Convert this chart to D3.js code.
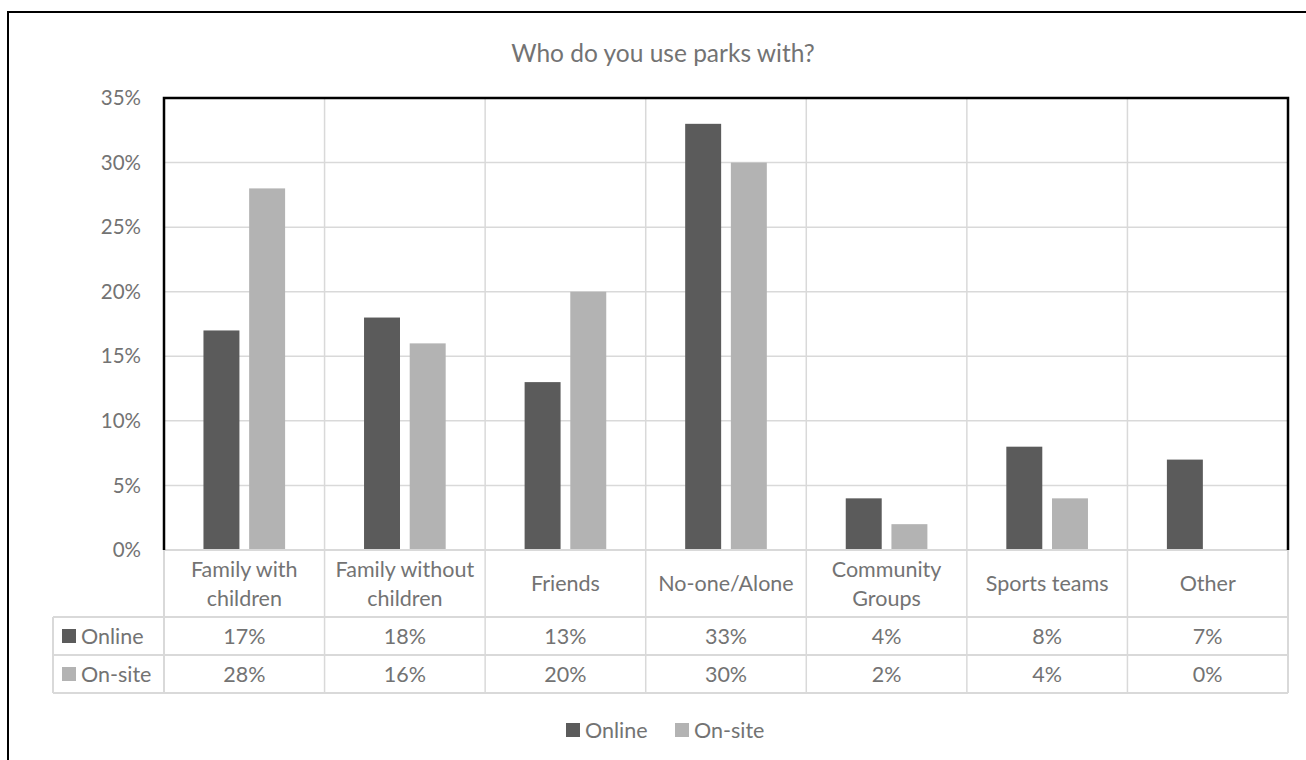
<!DOCTYPE html>
<html>
<head>
<meta charset="utf-8">
<script src="https://cdn.jsdelivr.net/npm/d3@7"></script>
<style>
  body { margin: 0; background: #fff; }
  svg text { font-family: Lato, "Open Sans", sans-serif; fill: #737373; }
</style>
</head>
<body>
<svg id="canvas" width="1306" height="760"></svg>
<script>
let title = "Who do you use parks with?";
let categories = [
  "Family with\nchildren",
  "Family without\nchildren",
  "Friends",
  "No-one/Alone",
  "Community\nGroups",
  "Sports teams",
  "Other"
];
let seriesNames = ["Online", "On-site"];
let onlineValues = [17, 18, 13, 33, 4, 8, 7];
let onsiteValues = [28, 16, 20, 30, 2, 4, 0];
let yTicks = [0, 5, 10, 15, 20, 25, 30, 35];
let colors = ["#5b5b5b", "#b3b3b3"];

let series = [onlineValues, onsiteValues];

let canvas = d3.select("#canvas");

// layout
let plotLeft = 164, plotRight = 1288, plotTop = 98, plotBottom = 550;
let tableLeft = 53;
let headerBottom = 617;
let rowEdges = [617, 655, 693];
let gridColor = "#d9d9d9";
let labelSize = "21.5px";

let x = d3.scaleBand()
  .domain(categories)
  .range([plotLeft, plotRight]);

let y = d3.scaleLinear()
  .domain([0, 35])
  .range([plotBottom, plotTop]);

let barW = x.bandwidth() * 0.224;
let barGap = barW * 0.27;
let groupW = barW * 2 + barGap;
let barX = (cat, s) => x(cat) + (x.bandwidth() - groupW) / 2 + s * (barW + barGap);

// outer chart border
canvas.append("rect")
  .attr("x", 8).attr("y", 12)
  .attr("width", 1310).attr("height", 770)
  .attr("fill", "none")
  .attr("stroke", "#000")
  .attr("stroke-width", 2);

// title
canvas.append("text")
  .attr("x", 663).attr("y", 62)
  .attr("text-anchor", "middle")
  .style("font-size", "24.5px")
  .text(title);

// horizontal gridlines + y labels
canvas.selectAll(".hgrid")
  .data(yTicks.filter((t) => t > 0 && t < 35))
  .enter()
  .append("line")
  .attr("class", "hgrid")
  .attr("x1", plotLeft).attr("x2", plotRight)
  .attr("y1", (d) => y(d)).attr("y2", (d) => y(d))
  .attr("stroke", gridColor)
  .attr("stroke-width", 1.5);

canvas.selectAll(".ylab")
  .data(yTicks)
  .enter()
  .append("text")
  .attr("class", "ylab")
  .attr("x", 141)
  .attr("y", (d) => y(d))
  .attr("dy", "0.35em")
  .attr("text-anchor", "end")
  .style("font-size", "20.5px")
  .text((d) => d + "%");

// vertical lines at category boundaries (plot + table)
let bounds = categories.slice(1).map((c) => x(c));
canvas.selectAll(".vgrid")
  .data(bounds)
  .enter()
  .append("line")
  .attr("class", "vgrid")
  .attr("x1", (d) => d).attr("x2", (d) => d)
  .attr("y1", plotTop).attr("y2", rowEdges[2])
  .attr("stroke", gridColor)
  .attr("stroke-width", 1.5);

// bars
series.forEach((vals, s) => {
  canvas.selectAll(".bar" + s)
    .data(vals)
    .enter()
    .append("rect")
    .attr("class", "bar" + s)
    .attr("x", (d, i) => barX(categories[i], s))
    .attr("y", (d) => y(d))
    .attr("width", barW)
    .attr("height", (d) => y(0) - y(d))
    .attr("fill", colors[s]);
});

// table lines
let tbl = canvas.append("g");
tbl.append("line")
  .attr("x1", plotLeft).attr("x2", plotRight)
  .attr("y1", plotBottom).attr("y2", plotBottom);
rowEdges.forEach((r) => {
  tbl.append("line")
    .attr("x1", tableLeft).attr("x2", plotRight)
    .attr("y1", r).attr("y2", r);
});
tbl.append("line")
  .attr("x1", tableLeft).attr("x2", tableLeft)
  .attr("y1", rowEdges[0]).attr("y2", rowEdges[2]);
tbl.append("line")
  .attr("x1", plotLeft).attr("x2", plotLeft)
  .attr("y1", plotBottom).attr("y2", rowEdges[2]);
tbl.append("line")
  .attr("x1", plotRight).attr("x2", plotRight)
  .attr("y1", plotBottom).attr("y2", rowEdges[2]);
tbl.selectAll("line")
  .attr("stroke", gridColor)
  .attr("stroke-width", 2);

// plot area border (left, top, right)
canvas.append("path")
  .attr("d", "M" + plotLeft + "," + plotBottom + "V" + plotTop + "H" + plotRight + "V" + plotBottom)
  .attr("fill", "none")
  .attr("stroke", "#000")
  .attr("stroke-width", 2.5);

// category labels
let catText = canvas.selectAll(".cat")
  .data(categories)
  .enter()
  .append("text")
  .attr("class", "cat")
  .attr("text-anchor", "middle")
  .style("font-size", labelSize);

catText.each(function (d) {
  let lines = d.split("\n");
  let cx = x(d) + x.bandwidth() / 2;
  let mid = (plotBottom + headerBottom) / 2;
  let lh = 29;
  d3.select(this).selectAll("tspan")
    .data(lines)
    .enter()
    .append("tspan")
    .attr("x", cx)
    .attr("y", (l, j) => mid + (j - (lines.length - 1) / 2) * lh)
    .attr("dy", "0.35em")
    .text((l) => l);
});

// table values + series keys
series.forEach((vals, s) => {
  let cy = (rowEdges[s] + rowEdges[s + 1]) / 2;
  canvas.selectAll(".val" + s)
    .data(vals)
    .enter()
    .append("text")
    .attr("class", "val" + s)
    .attr("x", (d, i) => x(categories[i]) + x.bandwidth() / 2)
    .attr("y", cy)
    .attr("dy", "0.35em")
    .attr("text-anchor", "middle")
    .style("font-size", labelSize)
    .text((d) => d + "%");

  canvas.append("rect")
    .attr("x", 62).attr("y", cy - 7)
    .attr("width", 14).attr("height", 14)
    .attr("fill", colors[s]);
  canvas.append("text")
    .attr("x", 81).attr("y", cy)
    .attr("dy", "0.35em")
    .style("font-size", labelSize)
    .text(seriesNames[s]);
});

// bottom legend
let legendX = [566, 675];
seriesNames.forEach((name, s) => {
  canvas.append("rect")
    .attr("x", legendX[s]).attr("y", 723)
    .attr("width", 14).attr("height", 14)
    .attr("fill", colors[s]);
  canvas.append("text")
    .attr("x", legendX[s] + 19).attr("y", 730)
    .attr("dy", "0.35em")
    .style("font-size", labelSize)
    .text(name);
});
</script>
</body>
</html>
